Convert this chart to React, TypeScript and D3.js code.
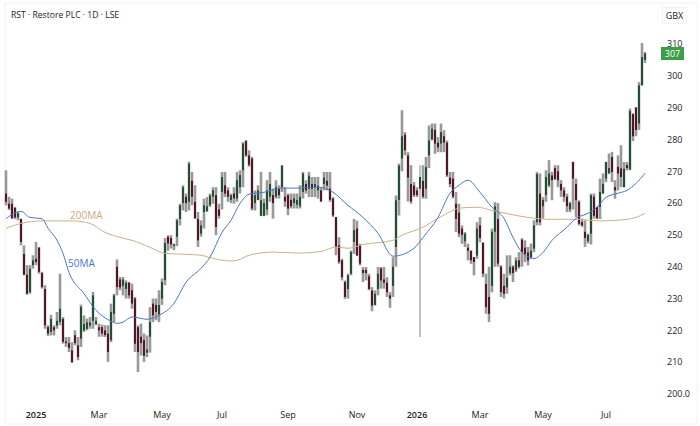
import React from 'react';
import * as d3 from 'd3';

// one row per column of the chart: open, high, low, close (GBX)
const candles: number[][] = [
  [263,270.3,259.3,260.4],[259.8,262,257.8,258.3],[259.8,261.4,255.1,255.2],[258.5,258.8,255,255.5],[255.5,257.2,254.6,256.8],
  [255,255.1,246.7,247.8],[244,246.7,237.3,237.5],[237.5,240.5,231.2,231.5],[232,240.5,231.5,239.4],[240.5,243.6,239.4,242],
  [242.5,247.8,240.5,241.5],[246,246.2,237.8,238.4],[238,238.4,233.1,233.6],[233,234.2,220.5,221.6],[221,221.6,218.2,219],
  [219.5,224.9,218.4,223.6],[221,221.6,218.4,220],[221.5,225.8,220.5,223],[222.6,237.8,221.6,226.8],[223.6,224.2,215.8,216.4],
  [216.5,217.9,214.8,216],[216,217.9,213.2,214.5],[213.7,216.3,209.8,210],[218.5,220,215.3,216],[215.3,217.9,210.6,211.6],
  [217.4,228.1,214.8,227.4],[220,224.7,219.5,222],[220.5,223.7,220,222.5],[221.5,224.2,220.5,222.5],[223,232.1,220.5,231],
  [222,224.2,221.6,223],[221,222.1,218,220],[221,221.8,218,219],[220,221.6,217.9,218.5],[219,221.6,210.1,213.2],
  [216.9,228.4,216.3,225.8],[225.2,231.5,222.6,231],[240,242.3,231,233.6],[236,236.8,232.6,233.5],[234,236.8,231,236],
  [233,235.7,230,235],[235,235.2,230,231],[232.6,234.7,226.8,228.4],[230,230.5,213.2,215.8],[221,221.6,206.9,213.2],
  [218,222.1,212.1,216],[217,219,210.1,212],[213,218.4,211.6,214],[218,227.3,213,222.6],[228.4,230,222.6,224.7],
  [228,230,223.2,225.8],[225,232.6,222.6,228],[230,236.3,228,235.2],[235.8,249,234.2,247.5],
  [249.4,249.9,245,247.3],[249,249.9,245.7,247],[246.5,247.3,245.2,247],[249.4,255.1,246.5,254.6],[255,259.8,253,259.3],
  [260,265.6,257.7,265],[262,263,257.2,260],[260.4,273,257.7,272.4],[267,269.8,259.3,262],[260.4,265.6,255.1,255.2],
  [255,257.2,246.2,248.3],[250.4,254.6,249.4,253],[257.2,261.4,252,259.3],[257.5,261.9,257.2,259],[259.3,263,258.8,262.4],
  [262,265,259.8,264],[262.5,265,249.9,252.5],[258,259.8,255.1,256],[263.5,269.8,258,268.2],[265.6,269.8,261.9,263],
  [264,265,260.4,262],[261,263,260,262.5],[263,265,259.8,261.5],[261.4,269.8,260.4,267.2],[265,270.3,263,268.8],
  [270.3,279.2,265,278.7],[279.5,279.8,274.5,275],[275,276.6,271.4,272],[274,274.5,257.7,258.3],[260,264,257.7,262.5],
  [261,265.6,260.9,264],[256,269.8,255.9,260.9],[256,261.4,255.9,260],[258,267.2,256.2,264],[262,269.8,260.4,266],
  [262.5,264.6,255.1,260],[262,267.2,261.4,265],[264.5,265.6,261.4,262.5],[265,271.9,263.5,271.8],[262,265,258.8,260.5],
  [262.5,263,256.2,258.3],[261,263,258.3,259],[260,263,258.3,261.5],[259.5,263,258.3,261],[259,265.6,258.3,262],
  [263.5,269.8,261.4,269.3],[266,267.2,263,264],[264.5,269.8,261.9,268.6],[266,268.2,261.9,264.5],[265,268.2,261.9,266],
  [264,268.2,261.4,265.5],[264,265,260.4,260.5],[266,269.8,264,268],[267,269.8,264,265.5],[264.5,269.8,260.4,261],
  [261.4,261.9,255.6,256.1],[255.6,255.6,243.6,246.2],[246.7,249.3,240.9,241.5],[242,242.5,235.7,236.7],[235.2,235.7,229.9,230.5],
  [233,237.8,230,237.3],[237.8,245.1,237.3,244.6],[247.8,255,244,251.5],[252,254.5,243.5,243.5],[246.7,247.2,240.4,241],
  [239,239.9,235.2,238],[239,239.9,235.7,238],[237,237.8,232.6,233],[232.5,233.6,226,227.8],[228,232.6,227.8,231.5],
  [233,239.9,231,237.8],[239.5,239.9,233.1,235.7],[236,239.9,233.1,235],[235,236.7,230.5,232],[231,232,227.1,230],
  [234,243,230.5,240],[246.2,262.4,240,260.9],[261,272.4,256.1,271.8],[274,289.2,270,281],[281.5,282.3,275,276.6],
  [275,276,260.5,268],[266,271.9,259.8,260.5],[265.5,266.6,261.9,262.5],[264,265,261.9,262.5],[264.5,271.9,217.9,268.2],
  [267,271.9,261.4,262],[264.5,274.5,261.4,271.3],[275,284.4,271,279.7],[280,285,279.7,283.4],[283,285,275.5,278.7],
  [279,280.8,276,277.5],[278.7,285,276,282.3],[281,282.9,276,279],[279,279.7,268.2,268.7],[268,269.8,265,266],
  [267.7,269.8,261.5,262],[259.8,263.5,250.9,255],[257,259.8,249.3,250.4],[252,253,247.2,250],[248,250.9,246.2,250.4],
  [246,247.2,242,245],[245,245.1,240.9,242],[243,243,237.3,241.5],[243.5,254,242.5,252],[253,255.6,247.7,249],
  [247.5,247.7,236.7,237.8],[234.6,237.8,225.2,227.3],[230.5,240,222.6,225.2],
  [234,252,232,251],[251,260.3,240,259],[255,260,240,241],[240,240.5,230.5,232],[234,237.8,230,231.5],
  [233.5,243.6,231.5,236.5],[238,243.6,237.3,240],[240,240.5,235.2,238],[238.9,243,238.3,242],[242,244.6,239.4,240],
  [248.5,249,240,244.6],[246,248.3,241.5,244],[244.5,246.2,240.4,242],[243,247.3,242.5,245],[245.7,254.6,244.6,253],
  [254,269.8,253,269.2],[263,269.3,253,254],[259,261.9,255.1,261],[262.5,270.3,260.4,268.2],[265.6,273.5,265,269.3],
  [268.7,269.8,260.9,267.2],[271,271.9,267.2,267.6],[270,271.9,265,267.2],[266,267.2,261.9,264],[264,265,260.4,262],
  [262,263,257.2,259],[258,260.4,257.2,260],[272.9,273,258,267.7],[266,267.7,255.6,260.9],[260.4,260.9,253,253.5],
  [254,255.1,252.5,253],[251,254.6,246.2,249],[248,250.4,247.3,250],[250.4,263,247,262.5],[262,263,255.1,256],
  [258.8,258.8,255.1,255.2],[258.8,267.7,255,263.5],[263,269.3,263,266],[267.7,273,266.6,272.9],[269.3,275.6,269.3,271],
  [274.5,276.1,266.6,269.8],[265,267.2,261.4,264],[271.4,275,264,269.3],[270.9,278.2,265,268.2],[265,272.9,265,270.8],
  [272,272.9,270.3,271],[270.6,289.7,270.3,289],[288,288.2,279.5,281],[290,290.2,281,283],[285,298,283,297],
  [297,310.3,297,305.9],[305,307.5,304,307],
];

// moving averages as [column, value]
const ma50: number[][] = [
  [0,255.1],[5,257.4],[8,255.5],[12,255.1],[14,252.1],[17,248.3],[19,244.2],[21,238.2],[26,231.6],[30,226.3],
  [35,222.9],[37,222.2],[39,222.6],[42,224.2],[47,223.5],[51,224.7],[56,228.5],[60,235.1],[65,239.5],[68,243],
  [72,250.8],[75,254.6],[78,259.9],[81,262.8],[86,263.4],[92,264.7],[97,264.7],[104,265],[109,263.4],[114,259.3],
  [119,255.5],[124,250.5],[129,243.3],[136,245.8],[139,249.2],[144,255.5],[148,263.1],[151,265.6],[154,267.2],[158,263.4],
  [162,258.7],[166,255.2],[169,249.2],[172,244.5],[176,242.6],[179,244.5],[182,248.3],[187,252.4],[190,255.2],[194,256.8],
  [197,258.7],[200,261.8],[204,263.1],[207,264],[210,266.2],[213,269.4],
];
const ma200: number[][] = [
  [0,252.1],[5,253.6],[12,254.4],[22,254.4],[28,253.6],[33,250.8],[38,249.2],[42,248.3],[48,246.1],[53,244.2],
  [60,243.9],[65,243.6],[69,242.6],[75,241.8],[77,242],[81,243.6],[89,244.6],[97,244.3],[105,244.8],[110,246.2],
  [114,245.8],[119,247],[129,248.3],[132,249.9],[139,252.4],[144,255.2],[149,257.7],[151,258.4],[157,258.7],[162,257.7],
  [168,256.5],[174,255.5],[181,254.9],[190,254.9],[198,254.4],[207,254.9],[210,255.5],[213,256.8],
];

const priceTicks = [310, 300, 290, 280, 270, 260, 250, 240, 230, 220, 210, 200];
const timeTicks: [number, string, boolean][] = [
  [10, '2025', true], [31, 'Mar', false], [52, 'May', false], [72, 'Jul', false], [94, 'Sep', false],
  [117, 'Nov', false], [137, '2026', true], [158, 'Mar', false], [179, 'May', false], [200, 'Jul', false],
];
const lastPrice = 307;

const FONT = '"Open Sans", "Noto Sans", sans-serif';

export default function App() {
  const x = d3.scaleLinear().domain([0, candles.length - 1]).range([6, 645]);
  const y = d3.scaleLinear().domain([200, 310]).range([394, 44]);
  const ma = d3.line<number[]>().x(d => x(d[0])).y(d => y(d[1])).curve(d3.curveMonotoneX);

  return (
    <svg width={700} height={426} style={{ position: 'absolute', left: 0, top: 0, background: '#fff' }}>
      <defs>
        <filter id="soft" x="-2%" y="-2%" width="104%" height="104%">
          <feGaussianBlur stdDeviation="0.4" />
        </filter>
      </defs>
      <rect x={5} y={3} width={692} height={421} fill="none" stroke="#f2f2f2" />
      <rect x={662.5} y={7.5} width={24} height={16} fill="none" stroke="#f3f3f3" />

      <g filter="url(#soft)">
        {candles.map(([o, h, l, c], i) => (
          <g key={i}>
            <line x1={x(i)} x2={x(i)} y1={y(h)} y2={y(l)} stroke="#808080" strokeOpacity={0.8}
              strokeWidth={h - l > 40 ? 1.2 : 2.6} />
            <rect
              x={x(i) - 1}
              width={2}
              y={y(Math.max(o, c))}
              height={Math.max(1, Math.abs(y(o) - y(c)))}
              fill={c >= o ? '#234f33' : '#521526'}
            />
          </g>
        ))}
        <path d={ma(ma200) || ''} fill="none" stroke="#cdb08c" strokeWidth={1} />
        <path d={ma(ma50) || ''} fill="none" stroke="#4a76c6" strokeWidth={1} />
      </g>

      <text x={70} y={219} fontFamily={FONT} fontSize={10} fill="#c9a97f">200MA</text>
      <text x={68} y={267} fontFamily={FONT} fontSize={10} fill="#4a76c6">50MA</text>

      <text x={11} y={17.5} fontFamily={FONT} fontSize={8.6} fill="#222">RST · Restore PLC · 1D · LSE</text>
      <text x={674.5} y={19} textAnchor="middle" fontFamily={FONT} fontSize={9} fill="#222">GBX</text>

      {priceTicks.map(t => (
        <text key={t} x={667} y={y(t) + 3.3} fontFamily={FONT} fontSize={9} fill="#222">
          {t === 200 ? '200.0' : t}
        </text>
      ))}
      <rect x={661} y={47} width={23} height={13} fill="#3a9f48" />
      <text x={672.5} y={y(lastPrice) + 3.3} textAnchor="middle" fontFamily={FONT} fontSize={9} fill="#fff">{lastPrice}</text>

      {timeTicks.map(([bar, label, strong]) => (
        <text key={bar} x={x(bar)} y={418} textAnchor="middle" fontFamily={FONT} fontSize={9}
          fontWeight={strong ? 600 : 400} fill="#222">{label}</text>
      ))}
    </svg>
  );
}
